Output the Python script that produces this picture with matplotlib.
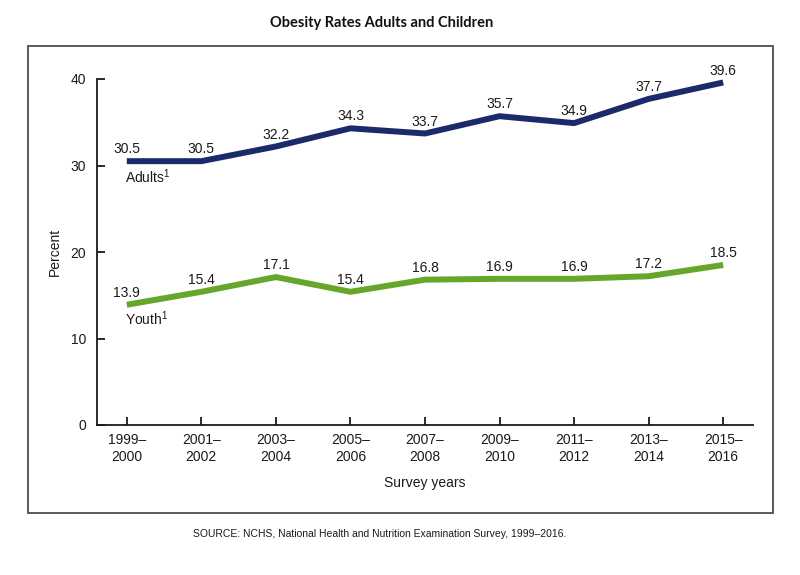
import matplotlib
matplotlib.use("Agg")
import matplotlib.pyplot as plt
from matplotlib.patches import Rectangle

survey_years = ["1999–\n2000", "2001–\n2002", "2003–\n2004", "2005–\n2006", "2007–\n2008",
                "2009–\n2010", "2011–\n2012", "2013–\n2014", "2015–\n2016"]
adults = [30.5, 30.5, 32.2, 34.3, 33.7, 35.7, 34.9, 37.7, 39.6]
youth = [13.9, 15.4, 17.1, 15.4, 16.8, 16.9, 16.9, 17.2, 18.5]
y_ticks = [0, 10, 20, 30, 40]

plt.rcParams["font.family"] = ["Liberation Sans", "DejaVu Sans"]
plt.rcParams["mathtext.fontset"] = "custom"
plt.rcParams["mathtext.rm"] = "Liberation Sans"
plt.rcParams["mathtext.default"] = "rm"
txt = "#1a1a1a"
fs = 10

fig = plt.figure(figsize=(8, 5.75), dpi=100)
fig.patch.set_facecolor("white")

# outer frame around the chart area
fig.patches.append(Rectangle((28 / 800, 1 - 513 / 575), 745 / 800, 467 / 575,
                             transform=fig.transFigure, fill=False,
                             edgecolor="#4d4d4d", linewidth=1.3))

ax = fig.add_axes([97 / 800, 1 - 425 / 575, 656 / 800, 346 / 575])

x = list(range(len(survey_years)))
adult_color = "#1b2a6b"
youth_color = "#66a62b"
ax.plot(x, adults, color=adult_color, linewidth=4.3, solid_capstyle="butt", clip_on=False)
ax.plot(x, youth, color=youth_color, linewidth=4.3, solid_capstyle="butt", clip_on=False)

for series in (adults, youth):
    for xi, v in zip(x, series):
        ax.annotate(f"{v:.1f}", (xi, v), xytext=(0, 8.5), textcoords="offset points",
                    ha="center", va="center", fontsize=fs, color=txt)

ax.annotate(r"Adults$^{1}$", (0, adults[0]), xytext=(-1, -11), textcoords="offset points",
            ha="left", va="center", fontsize=fs, color=txt)
ax.annotate(r"Youth$^{1}$", (0, youth[0]), xytext=(-1, -10), textcoords="offset points",
            ha="left", va="center", fontsize=fs, color=txt)

ax.set_xlim(-0.4, 8.4)
ax.set_ylim(0, 40)
ax.set_xticks(x)
ax.set_xticklabels(survey_years, linespacing=1.2)
ax.set_yticks(y_ticks)
ax.tick_params(axis="both", direction="in", length=6, width=1.3, labelsize=fs,
               colors=txt)
ax.tick_params(axis="x", pad=6)
ax.tick_params(axis="y", pad=8)

for side in ["top", "right"]:
    ax.spines[side].set_visible(False)
for side in ["left", "bottom"]:
    ax.spines[side].set_linewidth(1.3)
    ax.spines[side].set_color(txt)

ax.set_ylabel("Percent", fontsize=fs, color=txt, va="center")
ax.yaxis.set_label_coords(55 / 800, 1 - 252 / 575, transform=fig.transFigure)
ax.set_xlabel("Survey years", fontsize=fs, color=txt, va="center")
ax.xaxis.set_label_coords(425 / 800, 1 - 483 / 575, transform=fig.transFigure)

fig.text(382 / 800, 1 - 23 / 575, "Obesity Rates Adults and Children",
         ha="center", va="center", fontsize=10.5, fontweight="bold",
         family=["Lato", "DejaVu Sans"], color="#111111")
fig.text(380 / 800, 1 - 534 / 575,
         "SOURCE: NCHS, National Health and Nutrition Examination Survey, 1999–2016.",
         ha="center", va="center", fontsize=7.5, color=txt)

fig.savefig("out.png", dpi=100)
